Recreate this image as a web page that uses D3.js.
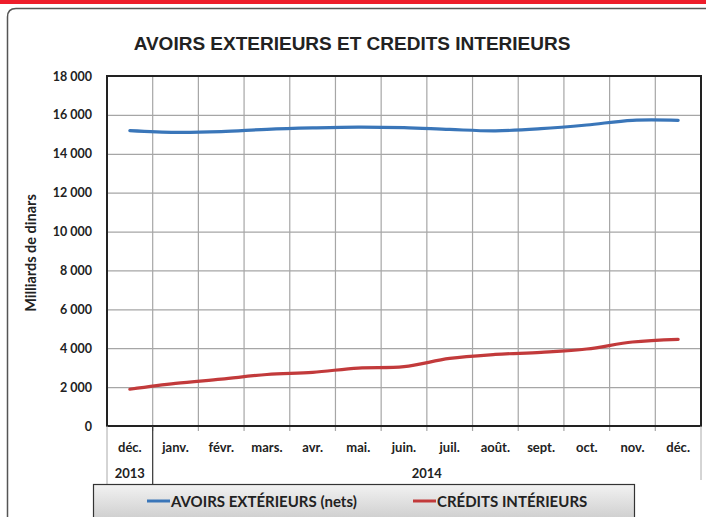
<!DOCTYPE html>
<html>
<head>
<meta charset="utf-8">
<script src="https://cdn.jsdelivr.net/npm/d3@7"></script>
<style>
  body { margin: 0; background: #fff; }
  svg { display: block; }
</style>
</head>
<body>
<div id="chart"></div>
<script>
// donnees
const months = ["déc.", "janv.", "févr.", "mars.", "avr.", "mai.", "juin.", "juil.", "août.", "sept.", "oct.", "nov.", "déc."];
const years = [{ label: "2013", from: 0, to: 0 }, { label: "2014", from: 1, to: 12 }];
const avoirs = [15190, 15100, 15140, 15260, 15330, 15370, 15340, 15250, 15180, 15290, 15480, 15720, 15720];
const credits = [1890, 2190, 2410, 2650, 2760, 2980, 3050, 3480, 3680, 3790, 3960, 4320, 4460];
const yTicks = [0, 2000, 4000, 6000, 8000, 10000, 12000, 14000, 16000, 18000];
const series = [
  { name: "AVOIRS EXTÉRIEURS (nets)", values: avoirs, color: "#3a76b9" },
  { name: "CRÉDITS INTÉRIEURS", values: credits, color: "#c23a3b" }
];

const W = 706, H = 517;
const pLeft = 107, pRight = 701, pTop = 76, pBottom = 426;

const svg = d3.select("#chart").append("svg").attr("width", W).attr("height", H);

// bandeau rouge + cadre arrondi
svg.append("rect").attr("x", 0).attr("y", 0).attr("width", W).attr("height", 4).attr("fill", "#ee1d2b");
svg.append("path")
  .attr("d", "M7.5,517 L7.5,17 Q7.5,8.5 16,8.5 L706,8.5")
  .attr("fill", "none").attr("stroke", "#555").attr("stroke-width", 1.5);

svg.append("text")
  .attr("x", 352).attr("y", 50)
  .attr("text-anchor", "middle")
  .style("font-family", "'Liberation Sans', Arial, sans-serif")
  .style("font-weight", "bold").style("font-size", "19px").attr("fill", "#222")
  .text("AVOIRS EXTERIEURS ET CREDITS INTERIEURS");

const x = d3.scaleBand().domain(d3.range(months.length)).range([pLeft, pRight]).padding(0);
const y = d3.scaleLinear().domain([0, 18000]).range([pBottom, pTop]);

const fr = d3.formatLocale({ decimal: ",", thousands: " ", grouping: [3], currency: ["", ""] });
const fmt = fr.format(",");

const font = "Lato, 'Open Sans', sans-serif";

// grille horizontale
svg.append("g")
  .attr("transform", `translate(${pLeft},0)`)
  .call(d3.axisLeft(y).tickValues(yTicks).tickSize(-(pRight - pLeft)).tickFormat(fmt).tickPadding(15))
  .call((g) => g.select(".domain").remove())
  .call((g) => g.selectAll(".tick line").attr("stroke", "#a6a6a6").attr("stroke-width", 1.2))
  .call((g) => g.selectAll(".tick text")
    .style("font-family", font).style("font-weight", "bold").style("font-size", "12.5px").attr("fill", "#222"));

// grille verticale
svg.append("g").selectAll("line")
  .data(d3.range(1, months.length))
  .enter().append("line")
  .attr("x1", (i) => x(i)).attr("x2", (i) => x(i))
  .attr("y1", pTop).attr("y2", pBottom + 5)
  .attr("stroke", "#a6a6a6").attr("stroke-width", 1.2);

// cadre de la zone de tracé
svg.append("rect")
  .attr("x", pLeft).attr("y", pTop).attr("width", pRight - pLeft).attr("height", pBottom - pTop)
  .attr("fill", "none").attr("stroke", "#222").attr("stroke-width", 2);

// séparateurs de l'axe x
svg.append("line").attr("x1", pLeft).attr("x2", pLeft).attr("y1", pBottom).attr("y2", 486)
  .attr("stroke", "#aaa").attr("stroke-width", 1);
svg.append("line").attr("x1", pRight).attr("x2", pRight).attr("y1", pBottom).attr("y2", 480)
  .attr("stroke", "#aaa").attr("stroke-width", 1);
svg.append("line").attr("x1", x(1)).attr("x2", x(1)).attr("y1", pBottom).attr("y2", 486)
  .attr("stroke", "#333").attr("stroke-width", 1.2);

svg.append("g").selectAll("text")
  .data(months)
  .enter().append("text")
  .attr("x", (d, i) => x(i) + x.bandwidth() / 2)
  .attr("y", 452)
  .attr("text-anchor", "middle")
  .style("font-family", font).style("font-weight", "bold").style("font-size", "13px").attr("fill", "#222")
  .text((d) => d);

svg.append("g").selectAll("text")
  .data(years)
  .enter().append("text")
  .attr("x", (d) => (x(d.from) + x(d.to) + x.bandwidth()) / 2)
  .attr("y", 478)
  .attr("text-anchor", "middle")
  .style("font-family", font).style("font-weight", "bold").style("font-size", "13px").attr("fill", "#222")
  .text((d) => d.label);

// titre axe y
svg.append("text")
  .attr("transform", `translate(36,253) rotate(-90)`)
  .attr("text-anchor", "middle")
  .style("font-family", font).style("font-weight", "bold").style("font-size", "14.5px").attr("fill", "#222")
  .text("Milliards de dinars");

// courbes
const line = d3.line()
  .x((d, i) => x(i) + x.bandwidth() / 2)
  .y((d) => y(d))
  .curve(d3.curveCatmullRom.alpha(0.5));

svg.append("g").selectAll("path")
  .data(series)
  .enter().append("path")
  .attr("d", (d) => line(d.values))
  .attr("fill", "none")
  .attr("stroke", (d) => d.color)
  .attr("stroke-width", 3.2)
  .attr("stroke-linecap", "round");

// légende
const defs = svg.append("defs");
const grad = defs.append("linearGradient").attr("id", "lg").attr("x1", 0).attr("y1", 0).attr("x2", 0).attr("y2", 1);
grad.append("stop").attr("offset", "0%").attr("stop-color", "#f2f2f2");
grad.append("stop").attr("offset", "100%").attr("stop-color", "#c9c9c9");

svg.append("rect")
  .attr("x", 93.5).attr("y", 484.5).attr("width", 541).attr("height", 40)
  .attr("fill", "url(#lg)").attr("stroke", "#333").attr("stroke-width", 1.2);

const legendX = [147, 413];
const lg = svg.append("g").selectAll("g")
  .data(series)
  .enter().append("g")
  .attr("transform", (d, i) => `translate(${legendX[i]},501)`);
lg.append("line").attr("x1", 0).attr("x2", 23).attr("y1", 0).attr("y2", 0)
  .attr("stroke", (d) => d.color).attr("stroke-width", 3);
lg.append("text")
  .attr("x", 24).attr("y", 5.5)
  .style("font-family", font).style("font-weight", "bold").style("font-size", "15px").attr("fill", "#222")
  .text((d) => d.name);
</script>
</body>
</html>
